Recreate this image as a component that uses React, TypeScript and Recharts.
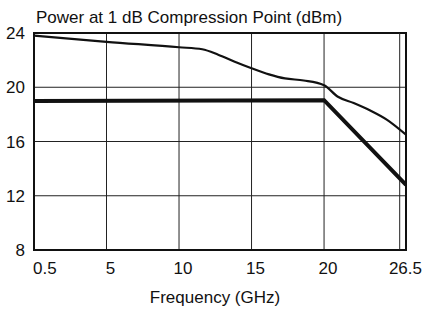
import React from "react";
import {
  LineChart,
  Line,
  XAxis,
  YAxis,
  CartesianGrid,
  ReferenceLine,
  ReferenceArea,
} from "recharts";

// frequency ticks (GHz) and dBm ticks
const freqTicks = [0.5, 5, 10, 15, 20, 26.5];
const dbmTicks = [8, 12, 16, 20, 24];

// upper (thin) curve
const upperFreq = [0.5, 5, 10, 11.6, 12.7, 13.8, 15, 16.2, 17.3, 18.6, 20, 21.1, 22.35, 23.7, 25.0, 26.5];
const upperDbm = [23.8, 23.35, 22.95, 22.8, 22.4, 21.9, 21.4, 20.95, 20.65, 20.5, 20.15, 19.3, 18.84, 18.27, 17.6, 16.5];

// lower (thick) curve
const lowerFreq = [0.5, 20, 26.5];
const lowerDbm = [18.98, 19.05, 12.8];

const upperData = upperFreq.map((f, i) => ({ f, v: upperDbm[i] }));
const lowerData = lowerFreq.map((f, i) => ({ f, v: lowerDbm[i] }));

// the printed axis spaces its ticks evenly, last span a bit wider
const spanWeights = [1, 1, 1, 1, 1.13];

function makeScale(dom: number[] = [0.5, 26.5], rng: number[] = [0, 1]): any {
  const total = spanWeights.reduce((a, b) => a + b, 0);
  const toT = (v: number) => {
    let acc = 0;
    for (let i = 0; i < freqTicks.length - 1; i++) {
      const a = freqTicks[i];
      const b = freqTicks[i + 1];
      if (v <= b || i === freqTicks.length - 2) {
        return (acc + ((v - a) / (b - a)) * spanWeights[i]) / total;
      }
      acc += spanWeights[i];
    }
    return 1;
  };
  const s: any = (v: number) => rng[0] + toT(v) * (rng[1] - rng[0]);
  s.domain = (d?: number[]) => (d === undefined ? dom : ((dom = d), s));
  s.range = (r?: number[]) => (r === undefined ? rng : ((rng = r), s));
  s.copy = () => makeScale([...dom], [...rng]);
  s.ticks = () => freqTicks;
  return s;
}

const font = "'Liberation Sans', Arial, Helvetica, sans-serif";

const XTick = (props: any) => {
  const { x, y, payload, index } = props;
  const first = index === 0;
  const last = index === freqTicks.length - 1;
  return (
    <text
      x={first ? x - 1 : last ? 422 : x + 4}
      y={y + 22}
      textAnchor={first ? "start" : last ? "end" : "middle"}
      fontSize={17}
      fontFamily={font}
      fill="#111"
    >
      {payload.value}
    </text>
  );
};

const YTick = (props: any) => {
  const { x, y, payload } = props;
  return (
    <text x={x - 7} y={y + 6} textAnchor="end" fontSize={17} fontFamily={font} fill="#111">
      {payload.value}
    </text>
  );
};

export default function App() {
  return (
    <div style={{ position: "absolute", left: 0, top: 0, width: 423, height: 311, background: "#fff", fontFamily: font }}>
      <div style={{ position: "absolute", left: 36, top: 9, fontSize: 17, lineHeight: "17px", color: "#111", whiteSpace: "nowrap" }}>
        Power at 1 dB Compression Point (dBm)
      </div>
      <LineChart
        width={423}
        height={311}
        data={upperData}
        margin={{ top: 33, right: 17, left: 0, bottom: 21 }}
      >
        <CartesianGrid stroke="#222" strokeWidth={1} horizontal vertical />
        <XAxis
          dataKey="f"
          type="number"
          scale={makeScale()}
          domain={[0.5, 26.5]}
          ticks={freqTicks}
          interval={0}
          height={40}
          axisLine={false}
          tickLine={false}
          tickSize={0}
          tick={<XTick />}
          allowDataOverflow
        />
        <YAxis
          type="number"
          domain={[8, 24]}
          ticks={dbmTicks}
          interval={0}
          width={34}
          axisLine={false}
          tickLine={false}
          tickSize={0}
          tick={<YTick />}
        />
        <ReferenceLine x={26} stroke="#222" strokeWidth={1} />
        <ReferenceArea x1={0.5} x2={26.5} y1={8} y2={24} fill="none" stroke="#111" strokeWidth={2} fillOpacity={0} />
        <Line
          data={upperData}
          dataKey="v"
          type="monotone"
          stroke="#111"
          strokeWidth={2.2}
          dot={false}
          isAnimationActive={false}
        />
        <Line
          data={lowerData}
          dataKey="v"
          type="linear"
          stroke="#111"
          strokeWidth={4}
          dot={false}
          isAnimationActive={false}
        />
      </LineChart>
      <div style={{ position: "absolute", left: 0, width: 430, textAlign: "center", top: 289, fontSize: 17, lineHeight: "17px", color: "#111" }}>
        Frequency (GHz)
      </div>
    </div>
  );
}
